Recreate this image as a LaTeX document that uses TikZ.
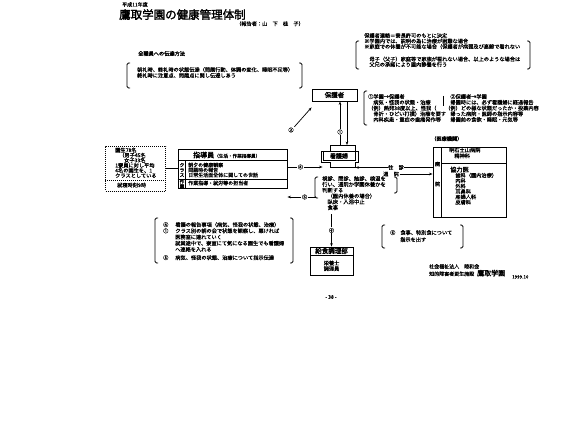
\documentclass[tikz,border=0pt]{standalone}
\usepackage{fontspec}
\setmainfont{Noto Sans CJK JP}[FakeBold=0.5, AutoFakeBold=2]
\usetikzlibrary{arrows.meta, positioning, calc}
\newcommand{\fsz}[2]{\fontsize{#1}{#2}\selectfont}
% left x, top y, right x, bottom y
\newcommand{\brkpair}[4]{%
  \draw[brk] (#1+3,#2) -- (#1,#2) -- (#1,#4) -- (#1+3,#4);
  \draw[brk] (#3-3,#2) -- (#3,#2) -- (#3,#4) -- (#3-3,#4);}

\begin{document}
\begin{tikzpicture}[x=1pt, y=-1pt,
    txt/.style={anchor=north west, inner sep=0pt, align=left, font=\fsz{5.2}{5.8}},
    brk/.style={line width=0.9pt, rounded corners=1.5pt},
    frame/.style={draw, line width=0.9pt},
    rule/.style={line width=0.7pt},
    link/.style={line width=0.7pt, -{Stealth[length=3.5pt, width=2.6pt]}},
    num/.style={inner sep=0.6pt, fill=white, font=\fsz{5.2}{6}},
  ]
  \useasboundingbox[fill=white] (0,0) rectangle (585,425);

  % title
  \node[txt, font=\fsz{5}{6}] (year) at (122,2) {平成11年度};
  \node[txt, font=\bfseries\fsz{11.5}{12}] (title) at (119,9) {鷹取学園の健康管理体制};
  \node[txt] (reporter) at (236,21) {（報告者：山　下　桂　子）};

  % staff relay
  \node[txt, font=\bfseries\fsz{5.2}{6}] (relayhead) at (138,51) {全職員への伝達方法};
  \node[txt] (relay) at (137,67)
    {朝礼時、終礼時の状態伝達（問題行動、体調の変化、睡眠不足等）\\
     終礼時に注意点、問題点に関し伝達しあう};
  \brkpair{127}{63}{302}{88}

  % consent
  \node[txt, font=\fsz{5.2}{5.5}] (consent) at (364,33)
    {保護者連絡＝寮長許可のもとに決定\\
     ※学園内では、説明の為に治療が困難な場合\\
     ※家庭での休養が不可能な場合（保護者が病弱及び高齢で看れない\\[7pt]
     　母子（父子）家庭等で家族が看れない場合、以上のような場合は\\
     　父兄の承諾により園内静養を行う};
  \brkpair{356}{41}{530}{69}

  % parents and nurse
  \node[frame, font=\bfseries\fsz{6.5}{7}, minimum width=45pt, minimum height=12pt,
        inner sep=1pt] (parent) at (334.5,95) {保護者};
  \node[frame, font=\bfseries\fsz{6}{7}, minimum width=32pt, minimum height=9pt,
        inner sep=1pt] (nurse) at (339,156) {看護婦};
  \draw[rule] (330,145) -- (355,145) -- (355,151) -- (358,151)
    -- (358,162) -- (355,162) -- (355,167) -- (330,167) -- (330,162)
    -- (321,162) -- (321,151) -- (330,151) -- cycle;

  \draw[link] ([xshift=1pt,yshift=6pt]nurse.north) -- ([xshift=1pt]nurse.north |- parent.south);
  \draw[link] ([xshift=8pt]nurse.north |- parent.south) -- ([xshift=8pt,yshift=6pt]nurse.north);
  \node[num] (n1) at (340,132) {①};
  \node[num] (n2) at (291,130) {②};
  \draw[link] (n2.north east) -- ([yshift=-6pt]parent.south west);

  % parent contact details
  \node[txt, font=\fsz{5.2}{5.75}] (toparent) at (368,94)
    {①学園→保護者\\
     　病気・怪我の状態・治療\\
     （例）熱発38度以上、怪我（\\
     　骨折・ひどい打撲）治療を要す\\
     　内科疾患・重症の歯痛発作等};
  \draw[brk] (367,91) -- (364,91) -- (364,125) -- (367,125);
  \node[txt, font=\fsz{5.2}{5.75}] (toschool) at (445,94)
    {　②保護者→学園\\
     　帰園時には、必ず看護婦に経過報告\\
     （例）どの様な状態だったか・投薬内容\\
     　帰った病院・医師の指示内容等\\
     　帰園前の食欲・睡眠・元気等};
  \draw[rule] (443,96) -- (443,106);

  % medical
  \node[txt, font=\bfseries\fsz{5.2}{6}] (medhead) at (431,136) {（医療機関）};
  \node[frame, minimum width=73pt, minimum height=70pt] (med) at (469.5,182.5) {};
  \draw[rule] ([xshift=9pt]med.north west) -- ([xshift=9pt]med.south west);
  \draw[rule] ([xshift=9pt,yshift=-16pt]med.north west) -- ([yshift=-16pt]med.north east);
  \node[font=\bfseries\fsz{5.2}{6}] (byo) at (437.5,164) {病};
  \node[font=\bfseries\fsz{5.2}{6}] (in) at (437.5,184) {院};
  \node[txt] (hosp) at (449,147.5) {明石土山病院\\　精神科};
  \node[txt, font=\fsz{5.2}{5.4}] (clinics) at (450,166.5)
    {{\bfseries\fsz{6.2}{5.4}協力医}\\
     　歯科（園内治療）\\　内科\\　外科\\　耳鼻科\\　産婦人科\\　皮膚科};

  \coordinate (visit) at (396,167.5);
  \draw[link] (visit -| med.west) -- (visit -| nurse.east);
  \node[num] (oushin) at (visit) {往　診};
  \node[num] (tsuin) at (391,174) {通　院};
  \draw[link] (tsuin.east) -- (tsuin -| med.west);

  % pupils
  \node[draw, densely dotted, line width=1pt, minimum width=60pt, minimum height=45pt] (pupilbox) at (135.5,168.5) {};
  \draw[densely dotted, line width=1pt] ([yshift=11pt]pupilbox.south west) -- ([yshift=11pt]pupilbox.south east);
  \node[txt, font=\fsz{5.2}{5.1}] (pupils) at (115,147.5)
    {{\bfseries 園生}78名\\
     \hspace{4pt}（男子45名\\
     \hspace{9pt}女子33名\\
     1寮員に対し平均\\
     4名の園生を、1\\
     クラスとしている};
  \node[txt] (bedtime) at (117,182.5) {就寝時刻9時};

  % instructors
  \node[frame, minimum width=109pt, minimum height=39pt] (guide) at (232.5,168.5) {};
  \draw[rule] (pupilbox.east) -- (pupilbox.east -| guide.west);
  \draw[rule] ([yshift=-12pt]guide.north west) -- ([yshift=-12pt]guide.north east);
  \draw[rule] ([xshift=8pt,yshift=-12pt]guide.north west) -- ([xshift=8pt]guide.south west);
  \draw[rule] ([yshift=9pt]guide.south west) -- ([yshift=9pt]guide.south east);
  \node[anchor=west, inner sep=0pt] (guidehead) at (193,155)
    {{\bfseries\fsz{7}{8}指導員}{\fsz{4.6}{5}（生活・作業指導員）}};
  \node[align=center, inner sep=0pt, font=\bfseries\fsz{4.8}{5}] (kurasu) at (182,170) {ク\\ラ\\ス};
  \node[align=center, inner sep=0pt, font=\bfseries\fsz{4.5}{4.6}] (sagyo) at (182,184) {作\\業};
  \node[txt, font=\fsz{5}{5}] (duties) at (188,162.5)
    {朝夕の健康観察\\問題時の報告\\日常生活面全体に関しての世話};
  \node[txt, font=\fsz{5}{5}] (work) at (188,180.5) {作業指導・就労等の担当者};

  \draw[link] ([yshift=1.5pt]guide.east) -- node[num, pos=0.37] {④} ([yshift=1.5pt]guide.east -| nurse.west);
  \coordinate (c5) at (316,197);
  \draw[link] (c5) -- node[num, pos=0.4] {⑤} (c5 -| guide.east);

  % examination
  \node[txt, font=\fsz{5.3}{5.8}] (exam) at (322,176)
    {視診、問診、触診、検温を\\
     行い、通院か学園休養かを\\
     判断する\\
     　（園内休養の場合）\\
     　臥床・入浴中止\\
     　食事};
  \draw[brk] (318,177) -- (315,177) -- (315,198) -- (318,198);
  \draw[brk] (394,177) -- (397,177) -- (397,193) -- (394,193);

  % kitchen
  \node[frame, minimum width=43pt, minimum height=8pt, inner sep=0.5pt,
        font=\bfseries\fsz{6.5}{7}] (meal) at (331.5,251) {給食調理部};
  \node[frame, minimum width=43pt, minimum height=20pt, below=0pt of meal,
        align=center, font=\fsz{5.2}{5.6}] (mealstaff) {栄養士\\調理員};
  \draw[link] ([yshift=-4pt]exam.south -| meal.north) -- node[num] {⑥} (meal.north);

  % instructions
  \node[txt, font=\fsz{5.2}{6.2}] (report) at (163,222)
    {④\hspace{7pt}看護の報告事項（病気、怪我の状態、治療）\\
     ①\hspace{7pt}クラス別の朝の会で状態を観察し、悪ければ\\
     \hspace{12pt}医務室に連れていく\\
     \hspace{12pt}就業途中で、寮室にて気になる園生でも看護婦\\
     \hspace{12pt}へ連絡を入れる\\[2pt]
     ⑤\hspace{7pt}病気、怪我の状態、治療について指示伝達};
  \brkpair{155}{218}{293}{263}

  \node[txt, font=\fsz{5.2}{7}] (mealorder) at (390,230)
    {⑥\hspace{5pt}食事、特別食について\\\hspace{10pt}指示を出す};
  \brkpair{382}{225}{463}{248}

  % credit and page
  \node[txt, font=\fsz{5}{5.5}] (credit) at (429,264)
    {社会福祉法人　睦和会\\
     知的障害者更生施設\hspace{3pt}{\bfseries\fsz{7}{5.5}鷹取学園}};
  \node[txt, font=\fsz{4.5}{5}] (date) at (512,275) {1999.10};
  \node[font=\fsz{5}{6}] (page) at (331,297) {- 38 -};
\end{tikzpicture}
\end{document}
